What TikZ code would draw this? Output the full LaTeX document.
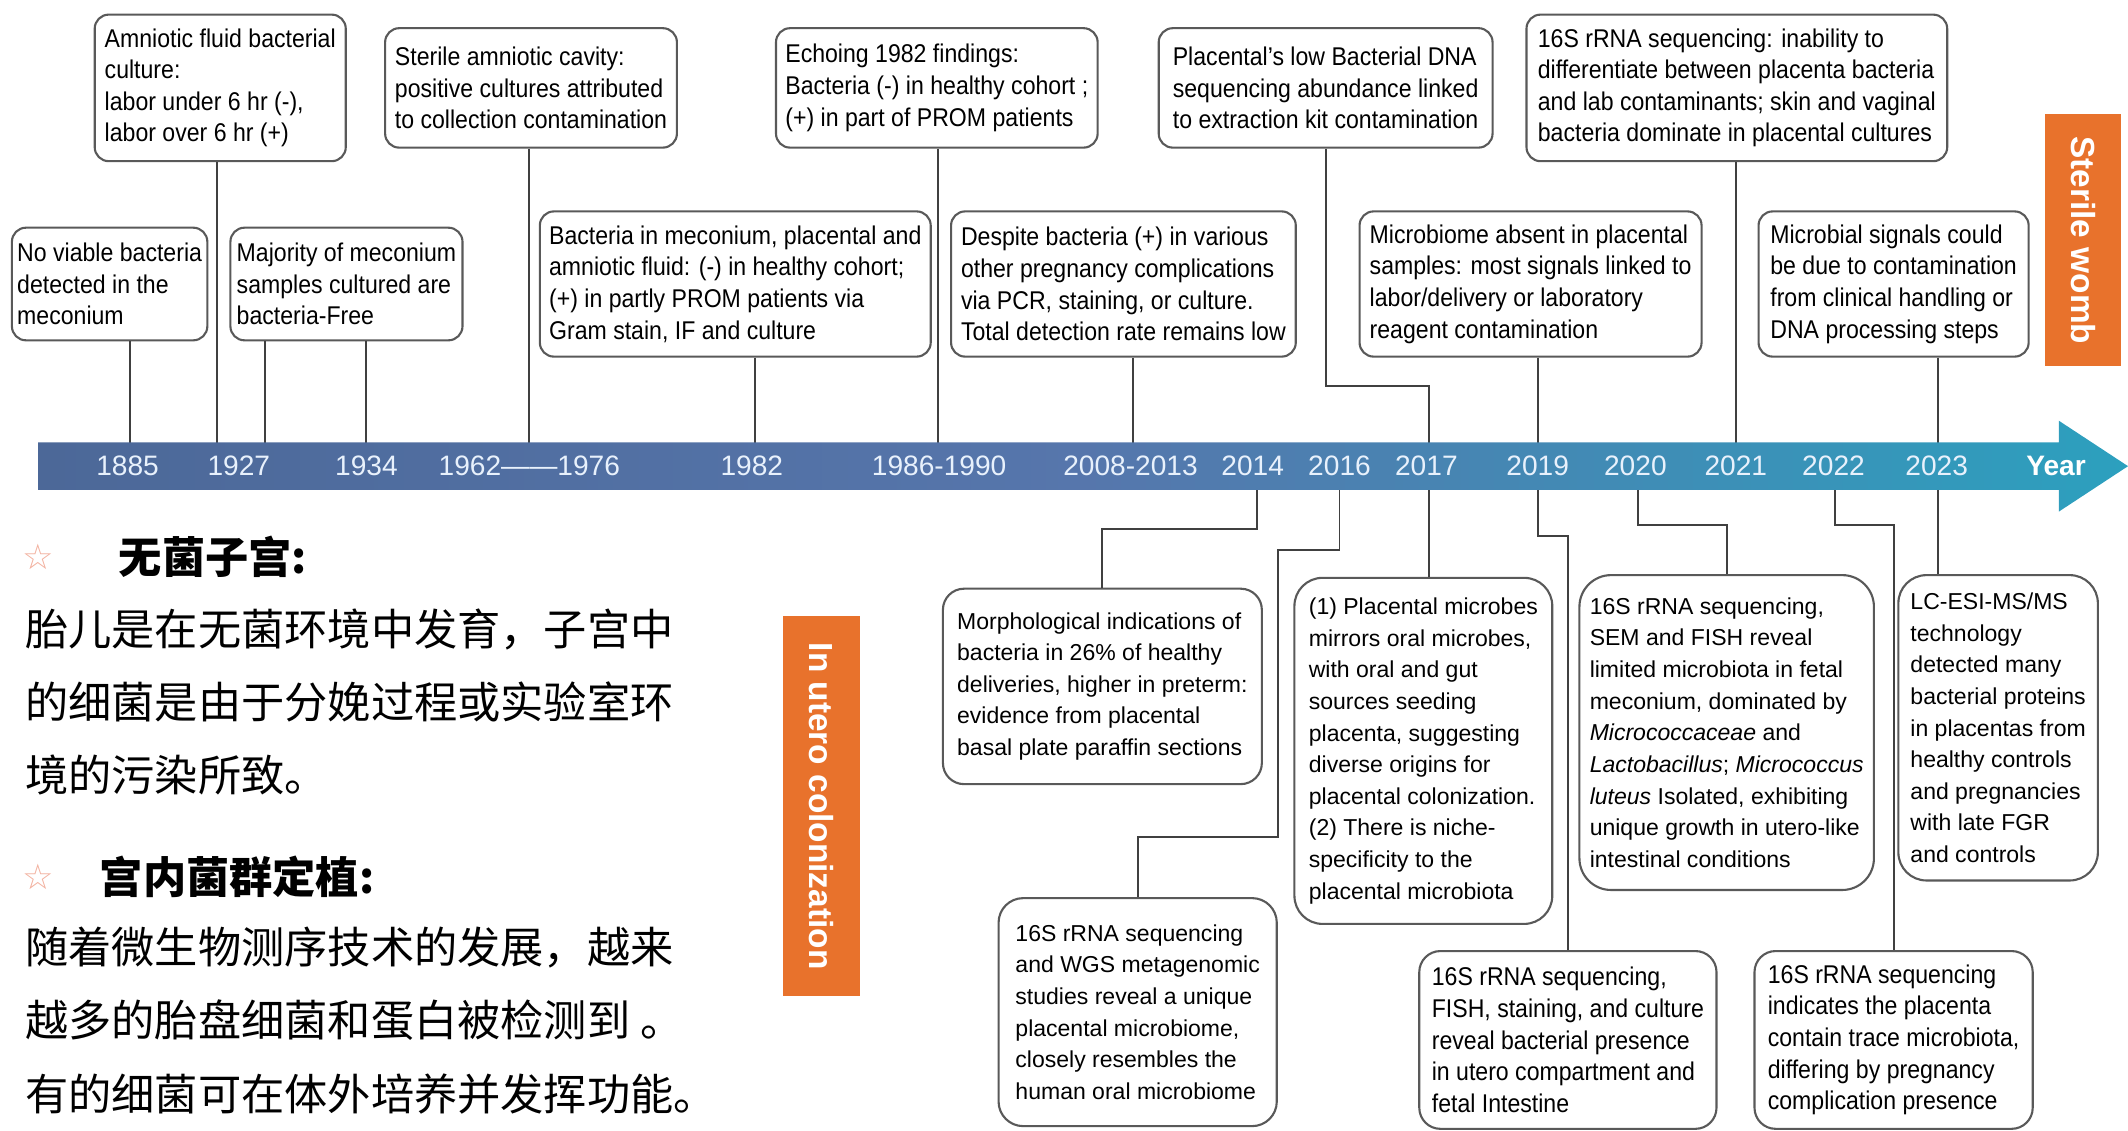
\documentclass[tikz,border=0pt]{standalone}
\usepackage{fontspec}
\setmainfont{Liberation Sans}
\newfontfamily\tallfont[FakeStretch=0.9]{Liberation Sans}
\newfontfamily\cjk{Noto Sans CJK SC}
\newfontfamily\symfont{DejaVu Sans}
\usepackage{tikz}
\usetikzlibrary{positioning}

\definecolor{barL}{RGB}{76,104,152}
\definecolor{barM}{RGB}{86,118,172}
\definecolor{barR}{RGB}{44,160,190}
\definecolor{yearwhite}{RGB}{232,241,252}
\definecolor{bandorange}{RGB}{232,114,44}
\definecolor{starpink}{RGB}{242,176,158}
\newcommand{\pxu}{0.1357mm}

\tikzset{
  card/.style={draw=black!65, line width=0.6pt, rounded corners=4pt, align=left,
    inner sep=0pt, anchor=north west, font=\fontsize{6.55}{9}\selectfont},
  tall/.style={font=\tallfont\fontsize{7.3}{9}\selectfont},
  boxsize/.style 2 args={minimum width=#1*\pxu, minimum height=#2*\pxu},
  link/.style={draw=black!75, line width=0.55pt},
  yearlbl/.style={text=yearwhite, font=\fontsize{8}{9}\selectfont, inner sep=0pt},
  banner/.style={fill=bandorange, text=white, font=\bfseries\fontsize{9.5}{10}\selectfont,
    rotate=-90, inner sep=0pt},
  cnhead/.style={font=\cjk\bfseries\fontsize{12.3}{14}\selectfont, inner sep=0pt, anchor=west},
  cntext/.style={font=\cjk\fontsize{12.3}{20.8}\selectfont, align=left, inner sep=0pt, anchor=west},
  starmark/.style={text=starpink, font=\symfont\fontsize{10}{10}\selectfont, inner sep=0pt}
}

\begin{document}
\begin{tikzpicture}[x=0.1357mm, y=-0.1357mm]
\useasboundingbox (0,0) rectangle (1568,833);

% boxes above the time line
\node[card, tall, boxsize={185}{108}] (amnio) at (69,10) {Amniotic fluid bacterial\\culture:\\labor under 6 hr (-),\\labor over 6 hr (+)};
\node[card, tall, boxsize={215}{88}] (steril) at (283,20) {Sterile amniotic cavity:\\positive cultures attributed\\to collection contamination};
\node[card, tall, boxsize={237}{88}] (echo) at (571,20) {Echoing 1982 findings:\\Bacteria (-) in healthy cohort ;\\(+) in part of PROM patients};
\node[card, tall, boxsize={246}{88}] (plow) at (853,20) {Placental’s low Bacterial DNA\\sequencing abundance linked\\to extraction kit contamination};
\node[card, tall, boxsize={310}{108}] (inab) at (1124,10) {16S rRNA sequencing: inability to\\differentiate between placenta bacteria\\and lab contaminants; skin and vaginal\\bacteria dominate in placental cultures};
\node[card, tall, boxsize={144}{83}] (novia) at (8,167) {No viable bacteria\\detected in the\\meconium};
\node[card, tall, boxsize={171}{83}] (major) at (169,167) {Majority of meconium\\samples cultured are\\bacteria-Free};
\node[card, tall, boxsize={288}{107}] (meco) at (397,155) {Bacteria in meconium, placental and\\amniotic fluid: (-) in healthy cohort;\\(+) in partly PROM patients via\\Gram stain, IF and culture};
\node[card, tall, boxsize={254}{107}] (desp) at (700,155) {Despite bacteria (+) in various\\other pregnancy complications\\via PCR, staining, or culture.\\Total detection rate remains low};
\node[card, tall, boxsize={252}{107}] (mabs) at (1001,155) {Microbiome absent in placental\\samples: most signals linked to\\labor/delivery or laboratory\\reagent contamination};
\node[card, tall, boxsize={199}{107}] (msig) at (1295,155) {Microbial signals could\\be due to contamination\\from clinical handling or\\DNA processing steps};

% boxes below the time line
\node[card, rounded corners=6pt, boxsize={235}{144}] (morph) at (694,433) {Morphological indications of\\bacteria in 26\% of healthy\\deliveries, higher in preterm:\\evidence from placental\\basal plate paraffin sections};
\node[card, rounded corners=7pt, boxsize={205}{168}] (wgs) at (735,661) {16S rRNA sequencing\\and WGS metagenomic\\studies reveal a unique\\placental microbiome,\\closely resembles the\\human oral microbiome};
\node[card, rounded corners=8pt, boxsize={190}{255}] (oral) at (953,425) {(1) Placental microbes\\mirrors oral microbes,\\with oral and gut\\sources seeding\\placenta, suggesting\\diverse origins for\\placental colonization.\\(2) There is niche-\\specificity to the\\placental microbiota};
\node[card, rounded corners=9pt, boxsize={217}{232}] (sem) at (1163,423) {16S rRNA sequencing,\\SEM and FISH reveal\\limited microbiota in fetal\\meconium, dominated by\\\textit{Micrococcaceae} and\\\textit{Lactobacillus}; \textit{Micrococcus}\\\textit{luteus} Isolated, exhibiting\\unique growth in utero-like\\intestinal conditions};
\node[card, rounded corners=8pt, boxsize={147}{225}] (lcesi) at (1398,423) {LC-ESI-MS/MS\\technology\\detected many\\bacterial proteins\\in placentas from\\healthy controls\\and pregnancies\\with late FGR\\and controls};
\node[card, tall, rounded corners=6pt, boxsize={219}{131}] (fish) at (1045,700) {16S rRNA sequencing,\\FISH, staining, and culture\\reveal bacterial presence\\in utero compartment and\\fetal Intestine};
\node[card, tall, rounded corners=6pt, boxsize={205}{131}] (trace) at (1292,700) {16S rRNA sequencing\\indicates the placenta\\contain trace microbiota,\\differing by pregnancy\\complication presence};

% where the connectors meet the bar
\foreach \nm/\x in {1885/96, 1927a/160, 1927b/195, 1934/270, 1962/390, 1982/556, 1986/691, 2008/835, 2017/1053, 2019/1133, 2021/1279, 2023/1428}
  \coordinate (t\nm) at (\x,328);
\foreach \nm/\x in {2014/926, 2016/987, 2017/1053, 2019/1133, 2020/1207, 2022/1352, 2023/1428}
  \coordinate (b\nm) at (\x,359);

\draw[link] (novia.south -| t1885) -- (t1885);
\draw[link] (amnio.south -| t1927a) -- (t1927a);
\draw[link] (major.south -| t1927b) -- (t1927b);
\draw[link] (major.south -| t1934) -- (t1934);
\draw[link] (steril.south -| t1962) -- (t1962);
\draw[link] (meco.south -| t1982) -- (t1982);
\draw[link] (echo.south -| t1986) -- (t1986);
\draw[link] (desp.south -| t2008) -- (t2008);
\draw[link] (plow.south) -- ++(0,175) -| (t2017);
\draw[link] (mabs.south -| t2019) -- (t2019);
\draw[link] (inab.south -| t2021) -- (t2021);
\draw[link] (msig.south -| t2023) -- (t2023);

\draw[link] (b2014) -- ++(0,31) -| (morph.north);
\draw[link] (b2016) -- ++(0,46) -- ++(-45,0) -- ++(0,212) -| (wgs.north);
\draw[link] (b2017) -- (b2017 |- oral.north);
\draw[link] (b2019) -- ++(0,36) -| (fish.north);
\draw[link] (b2020) -- ++(0,28) -| (sem.north);
\draw[link] (b2022) -- ++(0,28) -| (trace.north);
\draw[link] (b2023) -- (b2023 |- lcesi.north);

% time line
\shade[left color=barL, right color=barR, middle color=barM]
  (28,326) -- (1517,326) -- (1517,310) -- (1568,343.5) -- (1517,377) -- (1517,361) -- (28,361) -- cycle;
\foreach \x/\nm/\lbl in {94/1885/1885, 176/1927/1927, 270/1934/1934, 390/1962/{1962——1976}, 554/1982/1982, 692/1986/1986-1990, 833/2008/2008-2013, 923/2014/2014, 987/2016/2016, 1051/2017/2017, 1133/2019/2019, 1205/2020/2020, 1279/2021/2021, 1351/2022/2022, 1427/2023/2023}
  \node[yearlbl] (yr\nm) at (\x,343.5) {\lbl};
\node[yearlbl, text=white, font=\bfseries\fontsize{8}{9}\selectfont] (yrword) at (1515,343.5) {Year};

\node[banner, minimum width=186*\pxu, minimum height=56*\pxu] (sterile) at (1535,177) {Sterile womb};
\node[banner, minimum width=280*\pxu, minimum height=57*\pxu] (utero) at (605.5,594) {In utero colonization};

% notes in Chinese
\node[starmark] (star1) at (28,410) {☆};
\node[cnhead] (head1) at (87,410) {无菌子宫:};
\node[cntext] (para1) at (18,517) {胎儿是在无菌环境中发育，子宫中\\的细菌是由于分娩过程或实验室环\\境的污染所致。};
\node[starmark] (star2) at (28,646) {☆};
\node[cnhead] (head2) at (73,646) {宫内菌群定植:};
\node[cntext] (para2) at (18,752) {随着微生物测序技术的发展，越来\\越多的胎盘细菌和蛋白被检测到 。\\有的细菌可在体外培养并发挥功能。};
\end{tikzpicture}
\end{document}
